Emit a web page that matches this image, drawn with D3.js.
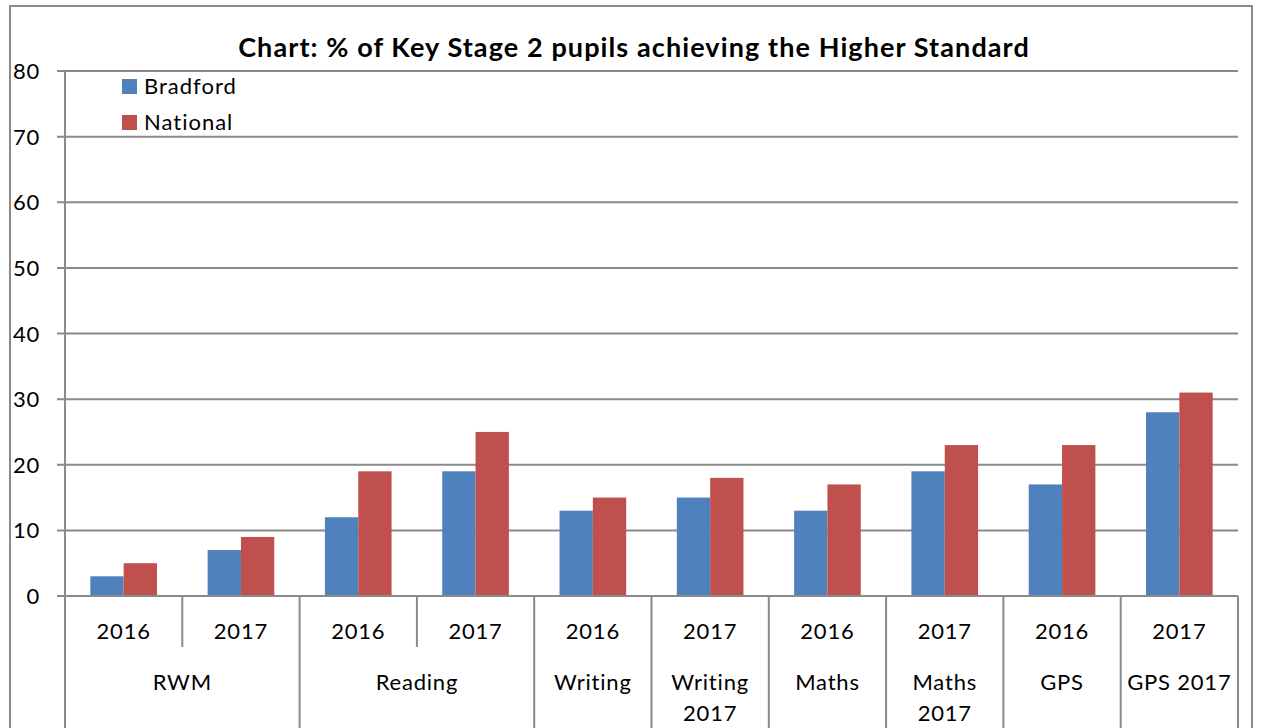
<!DOCTYPE html>
<html><head><meta charset="utf-8">
<script src="https://cdn.jsdelivr.net/npm/d3@7"></script>
<style>
html,body{margin:0;padding:0;background:#fff;overflow:hidden}
text{font-family:Lato,"Open Sans",sans-serif;fill:#000}
</style></head>
<body><svg id="c" width="1261" height="728"></svg>
<script>
const years = ["2016","2017","2016","2017","2016","2017","2016","2017","2016","2017"];
const groupNames = ["RWM","Reading","Writing","Writing 2017","Maths","Maths 2017","GPS","GPS 2017"];
const groupSpans = [2,2,1,1,1,1,1,1];
const seriesNames = ["Bradford","National"];
const bradford = [3,7,12,19,13,15,13,19,17,28];
const national = [5,9,19,25,15,18,17,23,23,31];
const yTicks = [0,10,20,30,40,50,60,70,80];
const colors = ["#4F81BD","#C0504D"];
const titleText = "Chart: % of Key Stage 2 pupils achieving the Higher Standard";

const svg = d3.select("#c");
const L=65, R=1238, T=71, B=596;
const gridCol="#8a8a8a";
const fs="22px", ls="0.8px";
const idx = d3.range(years.length);
const x = d3.scaleBand().domain(idx).range([L,R]).paddingInner(0).paddingOuter(0);
const xs = d3.scaleBand().domain([0,1]).range([0,x.bandwidth()]).paddingInner(0).paddingOuter(0.76);
const y = d3.scaleLinear().domain([0,80]).range([B,T]);

// outer border
svg.append("path").attr("d","M10,728 L10,6 L1252,6 L1252,728").attr("fill","none").attr("stroke","#8a8a8a").attr("stroke-width",2);

// gridlines
svg.append("g").selectAll("line").data(yTicks).join("line")
  .attr("x1",L-8).attr("x2",R).attr("y1",d=>y(d)).attr("y2",d=>y(d))
  .attr("stroke",gridCol).attr("stroke-width",2);
svg.append("g").selectAll("text").data(yTicks).join("text")
  .attr("x",40).attr("y",d=>y(d)+8).attr("text-anchor","end").style("font-size",fs).style("letter-spacing",ls).text(d=>d);

// bars
const series=[bradford,national];
series.forEach((vals,si)=>{
  svg.append("g").selectAll("rect").data(vals).join("rect")
    .attr("x",(d,i)=>x(i)+xs(si)).attr("width",xs.bandwidth())
    .attr("y",d=>y(d)).attr("height",d=>y(0)-y(d))
    .attr("fill",colors[si]);
});

// axis lines
svg.append("line").attr("x1",L).attr("x2",L).attr("y1",T).attr("y2",728).attr("stroke",gridCol).attr("stroke-width",2);
svg.append("line").attr("x1",L-8).attr("x2",R).attr("y1",B).attr("y2",B).attr("stroke",gridCol).attr("stroke-width",2);

// category separators
let starts=[0]; groupSpans.forEach((s,i)=>starts.push(starts[i]+s));
const groupBoundaries = starts.map(s=> s<years.length? x(s) : R);
svg.append("g").selectAll("line").data(groupBoundaries).join("line")
  .attr("x1",d=>d).attr("x2",d=>d).attr("y1",B).attr("y2",728)
  .attr("stroke",gridCol).attr("stroke-width",2);
const inner = idx.filter(i=>i>0 && !starts.includes(i));
svg.append("g").selectAll("line").data(inner).join("line")
  .attr("x1",i=>x(i)).attr("x2",i=>x(i)).attr("y1",B).attr("y2",647)
  .attr("stroke",gridCol).attr("stroke-width",2);

// year labels
svg.append("g").selectAll("text").data(years).join("text")
  .attr("x",(d,i)=>x(i)+x.bandwidth()/2).attr("y",639).attr("text-anchor","middle")
  .style("font-size",fs).style("letter-spacing",ls).text(d=>d);

// group labels with wrapping
groupNames.forEach((g,gi)=>{
  const s=starts[gi], e=starts[gi+1];
  const cx=(x(s)+(e<years.length?x(e):R))/2;
  const t=svg.append("text").attr("x",cx).attr("y",690).attr("text-anchor","middle")
    .style("font-size",fs).style("letter-spacing",ls).text(g);
  const maxW=(e-s)*x.bandwidth()-8;
  if(t.node().getComputedTextLength()>maxW && g.includes(" ")){
    const parts=g.split(" ");
    t.text(null);
    t.append("tspan").attr("x",cx).attr("dy",0).text(parts.slice(0,-1).join(" "));
    t.append("tspan").attr("x",cx).attr("dy",31).text(parts[parts.length-1]);
  }
});

// title
svg.append("text").attr("x",634).attr("y",57).attr("text-anchor","middle")
  .style("font-size","27px").style("font-weight","bold").style("letter-spacing","1.1px").text(titleText);

// legend
const lg=svg.append("g");
seriesNames.forEach((n,i)=>{
  lg.append("rect").attr("x",122).attr("y",79+i*36).attr("width",15).attr("height",15).attr("fill",colors[i]);
  lg.append("text").attr("x",144).attr("y",94+i*36).style("font-size",fs).style("letter-spacing","1px").text(n);
});
</script></body></html>
